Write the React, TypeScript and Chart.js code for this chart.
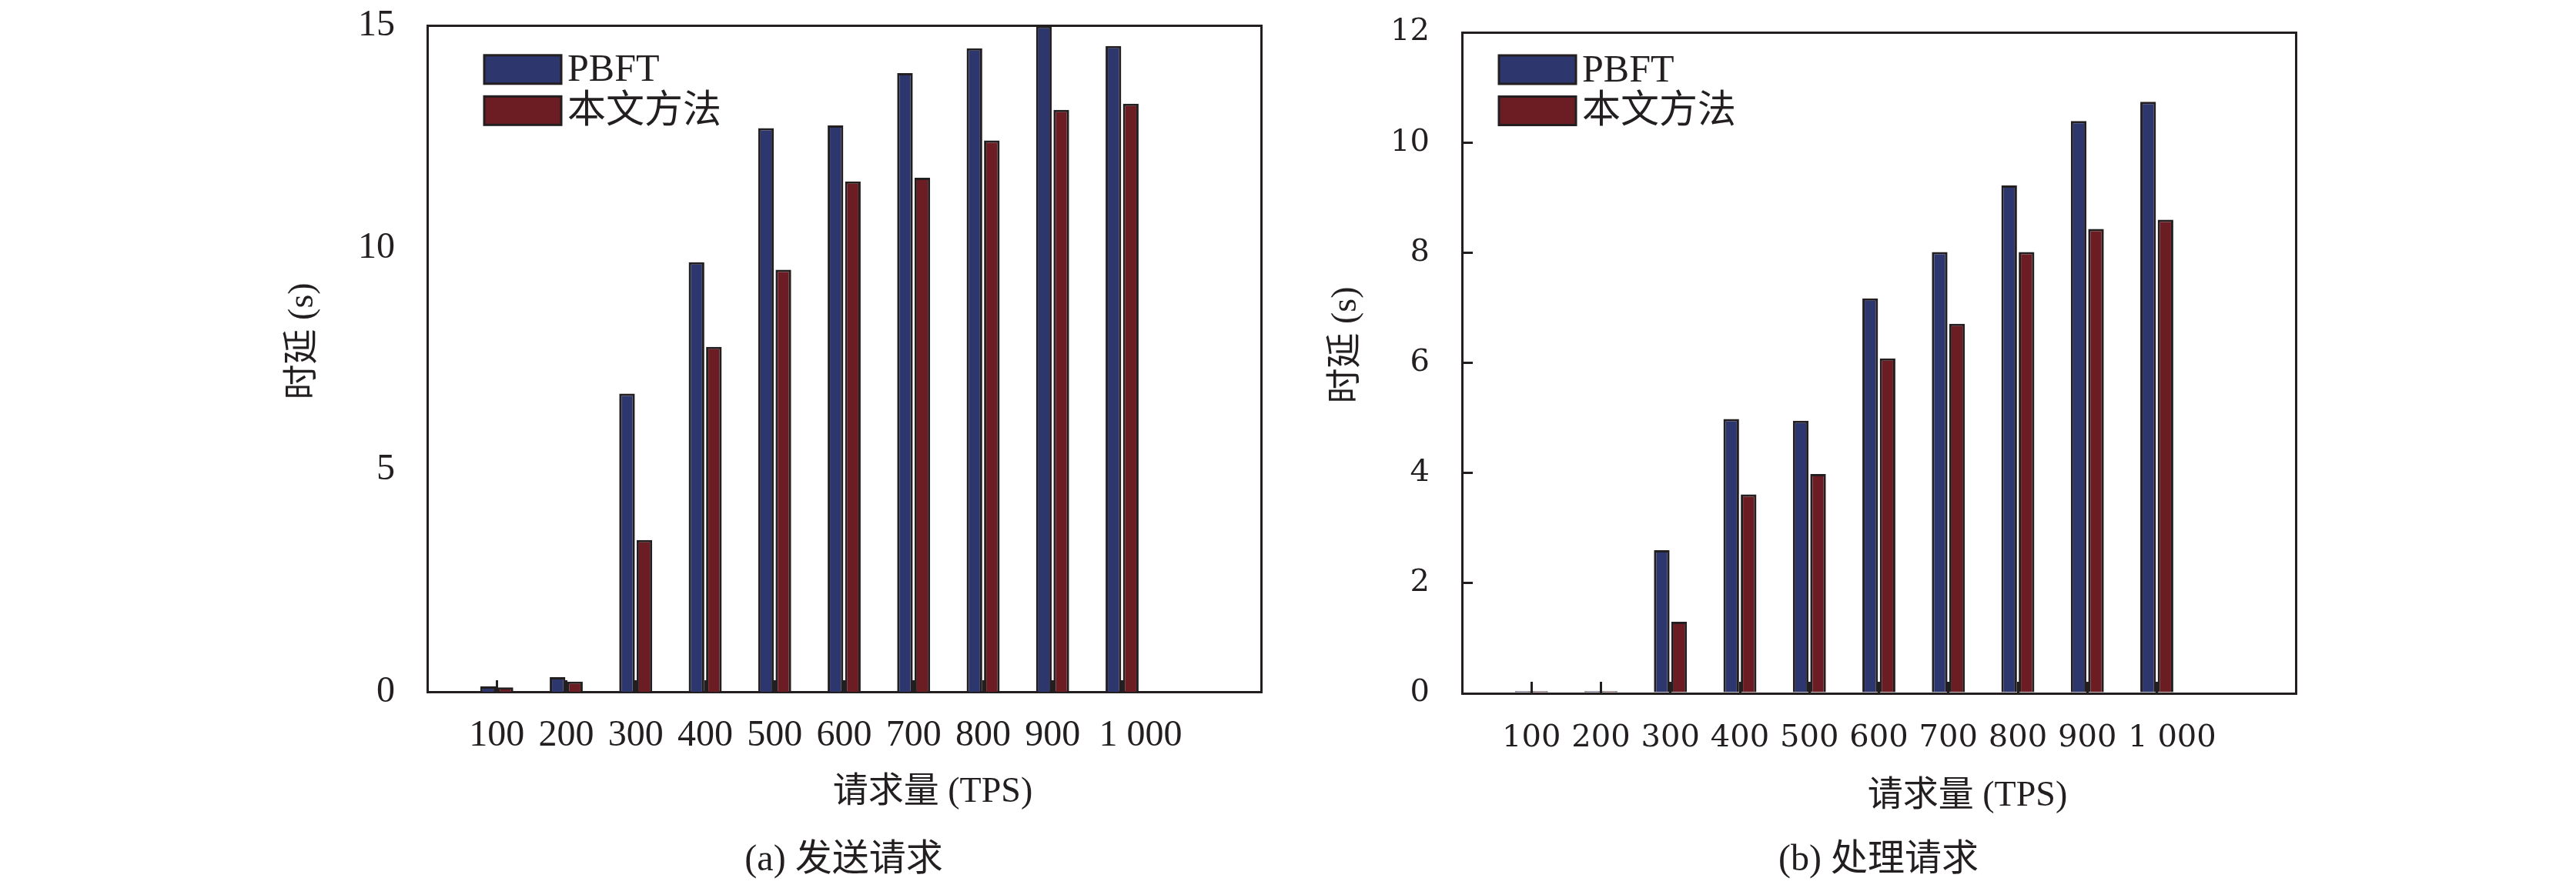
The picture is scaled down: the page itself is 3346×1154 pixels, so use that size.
import React, { useEffect, useRef } from 'react';
import { Chart, registerables } from 'chart.js';

Chart.register(...registerables);

// request volume (TPS) and the printed tick text
const requests = [100, 200, 300, 400, 500, 600, 700, 800, 900, 1000];
const requestLabels = ['100', '200', '300', '400', '500', '600', '700', '800', '900', '1 000'];

// (a) sending requests, latency in s
const sendPbft = [0.12, 0.33, 6.72, 9.68, 12.7, 12.76, 13.94, 14.5, 15.0, 14.55];
const sendOurs = [0.1, 0.23, 3.42, 7.77, 9.51, 11.5, 11.58, 12.42, 13.11, 13.25];

// (b) processing requests, latency in s
const procPbft = [0.04, 0.04, 2.6, 4.98, 4.95, 7.17, 8.01, 9.22, 10.39, 10.74];
const procOurs = [0.04, 0.04, 1.3, 3.61, 3.98, 6.08, 6.71, 8.01, 8.43, 8.6];

const seriesNames = ['PBFT', '本文方法'];
const BLUE = '#2e366e';
const RED = '#6c1d23';
const INK = '#231f20';

const SERIF = "'Liberation Serif', 'Noto Sans CJK SC', serif";
const WIDE_SERIF = "'DejaVu Serif', 'Noto Sans CJK SC', serif";

// legend drawn as boxes inside the plot, stacked vertically
const boxLegend = {
  id: 'boxLegend',
  afterDatasetsDraw(chart: any, _args: any, opts: any) {
    const { ctx, chartArea } = chart;
    ctx.save();
    chart.data.datasets.forEach((ds: any, i: number) => {
      const x = chartArea.left + opts.dx;
      const y = chartArea.top + opts.dy + i * opts.rowGap;
      ctx.fillStyle = ds.backgroundColor;
      ctx.fillRect(x, y, opts.boxW, opts.boxH);
      ctx.lineWidth = 3;
      ctx.strokeStyle = INK;
      ctx.strokeRect(x, y, opts.boxW, opts.boxH);
      ctx.fillStyle = INK;
      ctx.font = `50px ${SERIF}`;
      ctx.textBaseline = 'middle';
      ctx.textAlign = 'left';
      ctx.fillText(ds.label, x + opts.boxW + 8, y + opts.boxH / 2 + 2);
    });
    ctx.restore();
  },
};

function Panel({ pbft, ours, yMax, yTicks, caption, left, width, plotTop, tickFont, xTickPad, yTickPad, yTickLen, yWidth, rightWidth, xHeight, xTitlePad, legend }: any) {
  const ref = useRef<HTMLCanvasElement | null>(null);
  // the y labels make Chart.js reserve half a label plus the tick padding above the plot,
  // so the canvas is lifted by that much to keep the plot top where it belongs
  const overflow = (tickFont.size * 1.2) / 2 + yTickPad;
  const top = Math.round(plotTop - overflow);
  const height = 1154 - top;

  useEffect(() => {
    if (!ref.current) return;
    const chart = new Chart(ref.current, {
      type: 'bar',
      data: {
        datasets: [
          {
            label: seriesNames[0],
            data: requests.map((x, i) => ({ x, y: pbft[i] })),
            backgroundColor: BLUE,
            borderColor: INK,
            borderWidth: 3,
            categoryPercentage: 0.5,
            barPercentage: 0.9,
          },
          {
            label: seriesNames[1],
            data: requests.map((x, i) => ({ x, y: ours[i] })),
            backgroundColor: RED,
            borderColor: INK,
            borderWidth: 3,
            categoryPercentage: 0.5,
            barPercentage: 0.9,
          },
        ],
      } as any,
      options: {
        responsive: false,
        animation: false,
        layout: { padding: 0 },
        plugins: {
          legend: { display: false },
          tooltip: { enabled: false },
          title: {
            display: true,
            position: 'bottom',
            text: caption,
            color: INK,
            font: { family: SERIF, size: 48, weight: 'normal' as any },
            padding: { top: 0, bottom: 7 },
          },
          boxLegend: legend,
        } as any,
        scales: {
          x: {
            type: 'linear',
            position: 'bottom',
            offset: false,
            min: 0,
            max: 1200,
            afterBuildTicks: (s: any) => {
              s.ticks = requests.map((v) => ({ value: v }));
            },
            afterFit: (s: any) => {
              s.height = xHeight;
            },
            grid: { display: true, offset: false, drawOnChartArea: false, drawTicks: true, tickLength: -15, color: INK, lineWidth: 3 },
            border: { display: true, color: INK, width: 3 },
            ticks: {
              autoSkip: false,
              maxRotation: 0,
              padding: xTickPad,
              color: INK,
              font: tickFont,
              // the last label sits a little to the right in the original, clear of "900"
              callback: (_v: any, i: number) => (i === requests.length - 1 ? '\u2003' : '') + requestLabels[i],
            },
            title: {
              display: true,
              text: '\u3000\u3000\u3000\u3000\u3000请求量 (TPS)',
              color: INK,
              font: { family: SERIF, size: 46, weight: 'normal' as any },
              padding: { top: 0, bottom: xTitlePad },
            },
          },
          y: {
            min: 0,
            max: yMax,
            afterBuildTicks: (s: any) => {
              s.ticks = yTicks.map((v: number) => ({ value: v }));
            },
            afterFit: (s: any) => {
              s.width = yWidth;
            },
            grid: {
              display: yTickLen !== 0,
              drawOnChartArea: false,
              drawTicks: true,
              tickLength: yTickLen,
              color: INK,
              lineWidth: 3,
            },
            border: { display: true, color: INK, width: 3 },
            ticks: { padding: yTickPad, color: INK, font: tickFont },
            title: {
              display: true,
              text: '\u3000时延 (s)',
              color: INK,
              font: { family: SERIF, size: 46, weight: 'normal' as any },
              padding: { top: 0, bottom: 0 },
            },
          },
          yRight: {
            type: 'linear',
            position: 'right',
            display: true,
            min: 0,
            max: 1,
            afterFit: (s: any) => {
              s.width = rightWidth;
            },
            grid: { display: false },
            ticks: { display: false },
            border: { display: true, color: INK, width: 3 },
          },
          xTop: {
            type: 'linear',
            position: 'top',
            display: true,
            min: 0,
            max: 1,
            afterFit: (s: any) => {
              s.height = 0;
            },
            grid: { display: false },
            ticks: { display: false },
            border: { display: true, color: INK, width: 3 },
          },
        } as any,
      },
      plugins: [boxLegend],
    });
    return () => chart.destroy();
  }, []);

  return (
    <div style={{ position: 'absolute', left, top, width, height }}>
      <canvas ref={ref} width={width} height={height} style={{ width, height, display: 'block' }} />
    </div>
  );
}

export default function App() {
  return (
    <div>
      <Panel
        pbft={sendPbft}
        ours={sendOurs}
        yMax={15}
        yTicks={[0, 5, 10, 15]}
        caption="(a) 发送请求"
        left={366}
        width={1460}
        plotTop={34}
        tickFont={{ family: SERIF, size: 48 }}
        xTickPad={44}
        yTickPad={42}
        yTickLen={0}
        yWidth={189}
        rightWidth={188}
        xHeight={190.4}
        xTitlePad={31.8}
        legend={{ dx: 74, dy: 38, rowGap: 53.5, boxW: 100, boxH: 37 }}
      />
      <Panel
        pbft={procPbft}
        ours={procOurs}
        yMax={12}
        yTicks={[0, 2, 4, 6, 8, 10, 12]}
        caption="(b) 处理请求"
        left={1721}
        width={1438}
        plotTop={42}
        tickFont={{ family: WIDE_SERIF, size: 40 }}
        xTickPad={50}
        yTickPad={56}
        yTickLen={-14}
        yWidth={178}
        rightWidth={177}
        xHeight={188.4}
        xTitlePad={26.8}
        legend={{ dx: 48, dy: 30, rowGap: 53.5, boxW: 100, boxH: 37 }}
      />
    </div>
  );
}
